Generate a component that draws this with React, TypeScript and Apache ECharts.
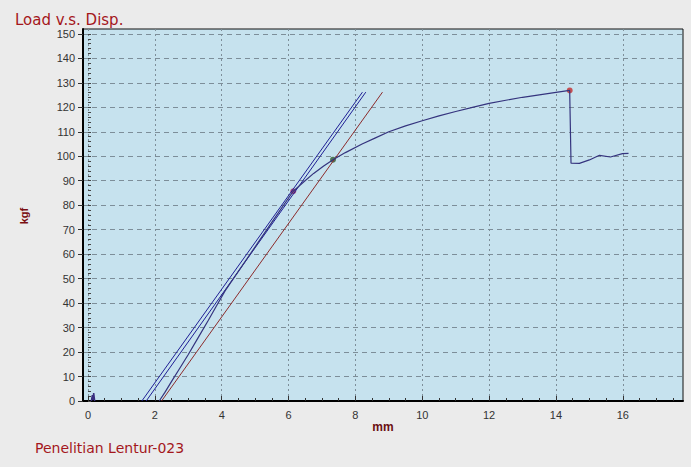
import React, { useEffect, useRef } from "react";
import * as echarts from "echarts";

const xTickValues = [0, 2, 4, 6, 8, 10, 12, 14, 16];
const xMinorTickValues = [0, 0.5, 1, 1.5, 2, 2.5, 3, 3.5, 4, 4.5, 5, 5.5, 6, 6.5, 7, 7.5, 8, 8.5, 9, 9.5, 10, 10.5, 11, 11.5, 12, 12.5, 13, 13.5, 14, 14.5, 15, 15.5, 16, 16.5, 17, 17.5];
const yTickValues = [0, 10, 20, 30, 40, 50, 60, 70, 80, 90, 100, 110, 120, 130, 140, 150];
const yMinorTickValues = [0, 2, 4, 6, 8, 10, 12, 14, 16, 18, 20, 22, 24, 26, 28, 30, 32, 34, 36, 38, 40, 42, 44, 46, 48, 50, 52, 54, 56, 58, 60, 62, 64, 66, 68, 70, 72, 74, 76, 78, 80, 82, 84, 86, 88, 90, 92, 94, 96, 98, 100, 102, 104, 106, 108, 110, 112, 114, 116, 118, 120, 122, 124, 126, 128, 130, 132, 134, 136, 138, 140, 142, 144, 146, 148, 150];

// Load (kgf) vs displacement (mm)
const loadCurve: [number, number][] = [
  [2.13, 0], [2.3, 3.5], [2.5, 8], [2.75, 13.5], [3.0, 19], [3.3, 26], [3.6, 33], [3.85, 39],
  [4.1, 45], [4.6, 55], [5.1, 65], [5.6, 75], [6.14, 85.7], [6.45, 89.5], [6.75, 93], [7.05, 96],
  [7.33, 98.6], [7.7, 101.5], [8.2, 105], [8.6, 107.5], [9.0, 110], [9.5, 112.4], [10, 114.5],
  [10.5, 116.5], [11, 118.3], [11.5, 120], [12, 121.6], [12.5, 122.9], [13, 124.1], [13.5, 125.1],
  [14, 126.1], [14.41, 126.9], [14.45, 97.2], [14.7, 97.1], [15.0, 98.5], [15.3, 100.4],
  [15.63, 99.7], [15.99, 101.1], [16.17, 101.2],
];
const toeSpike: [number, number][] = [[0.1, 0], [0.13, 2.4], [0.15, 0.4], [0.17, 3.2], [0.2, 0]];
const tangentA: [number, number][] = [[1.61, 0], [8.21, 126.2]];
const tangentB: [number, number][] = [[1.74, 0], [8.31, 126.2]];
const offsetLine: [number, number][] = [[2.2, 0], [8.81, 126.2]];
const markers = [
  { value: [6.14, 85.7], color: "#a3285e" },
  { value: [7.33, 98.6], color: "#2f5e32" },
  { value: [14.41, 126.9], color: "#c42a2a" },
];

export default function App() {
  const ref = useRef<HTMLDivElement>(null);
  useEffect(() => {
    if (!ref.current) return;
    const chart = echarts.init(ref.current, null, { renderer: "svg" });
    const labelFont = { color: "#333", fontSize: 11, fontFamily: "Liberation Sans, Arial, sans-serif" };
    chart.setOption({
      animation: false,
      backgroundColor: "#ebebeb",
      grid: {
        left: 83, top: 29, right: 8, bottom: 66,
        show: true, backgroundColor: "#c6e2ee", borderColor: "#111", borderWidth: 1,
      },
      xAxis: [
        {
          type: "value", min: -0.15, max: 17.8, position: "bottom",
          axisLine: { show: true, onZero: false, lineStyle: { color: "#000", width: 2 } },
          axisTick: { show: true, inside: true, length: 5, customValues: xTickValues, lineStyle: { color: "#333" } },
          axisLabel: { ...labelFont, margin: 8, customValues: xTickValues },
          splitLine: { show: true, lineStyle: { color: "#7d8e99", type: [2, 3], width: 1 } },
        },
        {
          type: "value", min: -0.15, max: 17.8, position: "bottom",
          axisLine: { show: false },
          axisTick: { show: true, inside: true, length: 3, customValues: xMinorTickValues, lineStyle: { color: "#333" } },
          axisLabel: { show: false },
          splitLine: { show: false },
        },
      ],
      yAxis: [
        {
          type: "value", min: 0, max: 152,
          axisLine: { show: true, onZero: false, lineStyle: { color: "#000", width: 2 } },
          axisTick: { show: true, inside: false, length: 5, customValues: yTickValues, lineStyle: { color: "#333" } },
          axisLabel: { ...labelFont, margin: 8, customValues: yTickValues },
          splitLine: { show: true, lineStyle: { color: "#7d8e99", type: [5, 4], width: 1 } },
        },
        {
          type: "value", min: 0, max: 152, position: "left",
          axisLine: { show: false },
          axisTick: { show: true, inside: true, length: 3, customValues: yMinorTickValues, lineStyle: { color: "#444" } },
          axisLabel: { show: false },
          splitLine: { show: false },
        },
      ],
      graphic: [
        { type: "text", left: 15, top: 12, style: { text: "Load v.s. Disp.", fill: "#a4171c", font: "15px 'DejaVu Sans', sans-serif" } },
        { type: "text", x: 24, y: 216, rotation: Math.PI / 2, style: { text: "kgf", fill: "#7a0f12", font: "bold 11px 'Liberation Sans', Arial, sans-serif", align: "center", verticalAlign: "middle" } },
        { type: "text", x: 383, y: 427, style: { text: "mm", fill: "#6a0f12", font: "bold 12px 'Liberation Sans', Arial, sans-serif", align: "center", verticalAlign: "middle" } },
        { type: "text", x: 35, y: 448, style: { text: "Penelitian Lentur-023", fill: "#a4171c", font: "14px 'DejaVu Sans', sans-serif", verticalAlign: "middle" } },
      ],
      series: [
        { type: "line", data: toeSpike, showSymbol: false, lineStyle: { color: "#3a2f80", width: 1.5 } },
        { type: "line", data: tangentA, showSymbol: false, lineStyle: { color: "#1f1f95", width: 1 } },
        { type: "line", data: tangentB, showSymbol: false, lineStyle: { color: "#1f1f95", width: 1 } },
        { type: "line", data: offsetLine, showSymbol: false, lineStyle: { color: "#8c2b2b", width: 1 } },
        { type: "line", data: loadCurve, showSymbol: false, lineStyle: { color: "#35347e", width: 1.2 } },
        {
          type: "scatter", symbol: "circle", symbolSize: 6,
          data: markers.map((m) => ({ value: m.value, itemStyle: { color: m.color } })),
        },
      ],
    });
    return () => chart.dispose();
  }, []);
  return <div ref={ref} style={{ position: "absolute", left: 0, top: 0, width: 691, height: 467 }} />;
}
